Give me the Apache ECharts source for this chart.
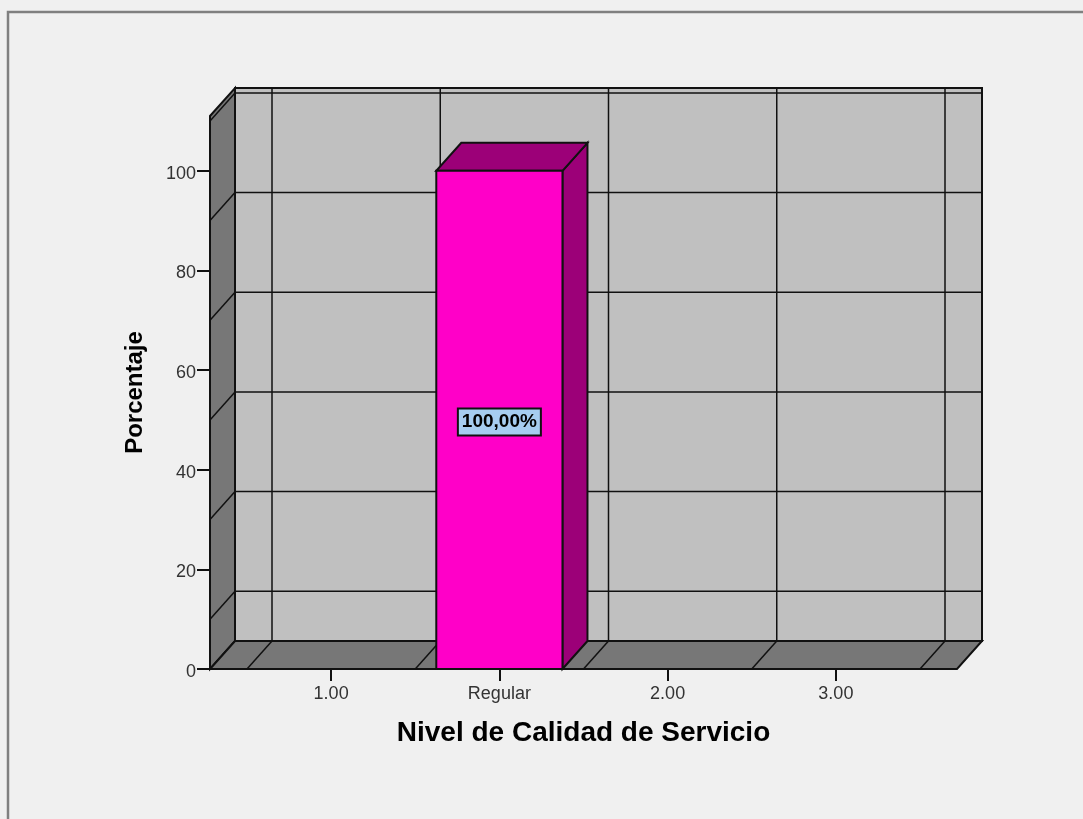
<!DOCTYPE html>
<html>
<head>
<meta charset="utf-8">
<style>
  html, body { margin: 0; padding: 0; background: #f0f0f0; }
  #chart { width: 1083px; height: 819px; }
</style>
<script src="https://cdn.jsdelivr.net/npm/echarts@6/dist/echarts.min.js"></script>
</head>
<body>
<div id="chart"></div>
<script>
// Chart data
const categories = ['1.00', 'Regular', '2.00', '3.00'];
const percentages = [0, 100, 0, 0];
const valueLabels = ['', '100,00%', '', ''];
const yTicks = [0, 20, 40, 60, 80, 100];
const wallGridValues = [10, 30, 50, 70, 90, 110];
const yMax = 111;

// Look of the pseudo-3D box
const depthX = 25;
const depthY = 28;
const wallPad = 37;
const barShare = 0.75;
const ink = '#111111';
const lineStyle = { stroke: ink, lineWidth: 1.5, fill: null };
const faceStroke = { stroke: ink, lineWidth: 2 };

function poly(points, fill, z2) {
  return {
    type: 'polygon', z2: z2 || 0,
    shape: { points: points },
    style: Object.assign({ fill: fill }, faceStroke)
  };
}
function seg(a, b) {
  return {
    type: 'line', z2: 1,
    shape: { x1: a[0], y1: a[1], x2: b[0], y2: b[1] },
    style: lineStyle
  };
}

// Walls, floor and their grid lines
function renderBox(params, api) {
  const band = api.size([1, 0])[0];
  const first = api.coord([0, 0])[0] - band / 2;
  const last = api.coord([categories.length - 1, 0])[0] + band / 2;
  const left = first - wallPad;
  const right = last + wallPad;
  const y0 = api.coord([0, 0])[1];
  const yTop = api.coord([0, yMax])[1];
  const kids = [
    poly([[left + depthX, y0 - depthY], [right + depthX, y0 - depthY], [right + depthX, yTop - depthY], [left + depthX, yTop - depthY]], '#c0c0c0'),
    poly([[left, y0], [left + depthX, y0 - depthY], [left + depthX, yTop - depthY], [left, yTop]], '#777777'),
    poly([[left, y0], [right, y0], [right + depthX, y0 - depthY], [left + depthX, y0 - depthY]], '#777777')
  ];
  wallGridValues.forEach(function (v) {
    const y = api.coord([0, v])[1];
    kids.push(seg([left, y], [left + depthX, y - depthY]));
    kids.push(seg([left + depthX, y - depthY], [right + depthX, y - depthY]));
  });
  for (let i = 0; i <= categories.length; i++) {
    const x = first + i * band;
    kids.push(seg([x, y0], [x + depthX, y0 - depthY]));
    kids.push(seg([x + depthX, y0 - depthY], [x + depthX, yTop - depthY]));
  }
  return { type: 'group', children: kids };
}

// One extruded bar with its value tag
function renderBar(params, api) {
  const idx = api.value(0);
  const val = api.value(1);
  if (!val) return null;
  const band = api.size([1, 0])[0];
  const w = band * barShare;
  const c = api.coord([idx, 0]);
  const t = api.coord([idx, val]);
  const x1 = c[0] - w / 2, x2 = c[0] + w / 2, y0 = c[1], y1 = t[1];
  const dark = '#9c0078';
  const mid = api.coord([idx, val / 2]);
  return {
    type: 'group',
    children: [
      poly([[x2, y0], [x2 + depthX, y0 - depthY], [x2 + depthX, y1 - depthY], [x2, y1]], dark, 2),
      poly([[x1, y1], [x2, y1], [x2 + depthX, y1 - depthY], [x1 + depthX, y1 - depthY]], dark, 2),
      poly([[x1, y0], [x2, y0], [x2, y1], [x1, y1]], '#ff00c8', 3),
      {
        type: 'text', z2: 4,
        style: {
          x: mid[0], y: mid[1] + 2,
          text: valueLabels[idx],
          align: 'center', verticalAlign: 'middle',
          font: 'bold 19px "Liberation Sans", Arial, sans-serif',
          fill: '#000000',
          backgroundColor: '#a6cdf0',
          borderColor: '#111111', borderWidth: 2,
          padding: [3, 3, 3, 3]
        }
      }
    ]
  };
}

const chart = echarts.init(document.getElementById('chart'), null, { renderer: 'canvas' });
chart.setOption({
  animation: false,
  backgroundColor: '#f0f0f0',
  graphic: [{
    type: 'polyline',
    silent: true,
    shape: { points: [[8, 819], [8, 12], [1083, 12]] },
    style: { stroke: '#808080', lineWidth: 2.5, fill: null }
  }],
  grid: { left: 247, width: 673, top: 116, height: 553 },
  xAxis: {
    type: 'category',
    data: categories,
    name: 'Nivel de Calidad de Servicio',
    nameLocation: 'middle',
    nameGap: 50,
    nameTextStyle: { fontFamily: 'Liberation Sans', fontWeight: 'bold', fontSize: 28, color: '#000' },
    axisLine: { show: false },
    axisTick: { show: true, alignWithLabel: true, length: 12, lineStyle: { color: ink, width: 2 } },
    axisLabel: { fontFamily: 'Liberation Sans', fontSize: 18, color: '#333', margin: 16 },
    splitLine: { show: false },
    z: 5
  },
  yAxis: {
    type: 'value',
    min: 0,
    max: yMax,
    interval: 20,
    offset: 37,
    name: 'Porcentaje',
    nameLocation: 'middle',
    nameGap: 63,
    nameTextStyle: { fontFamily: 'Liberation Sans', fontWeight: 'bold', fontSize: 24, color: '#000' },
    axisLine: { show: false },
    axisTick: { show: true, length: 13, customValues: yTicks, lineStyle: { color: ink, width: 2 } },
    axisLabel: { fontFamily: 'Liberation Sans', fontSize: 18, color: '#333', margin: 14, verticalAlign: 'top', lineHeight: 6, customValues: yTicks },
    splitLine: { show: false },
    z: 5
  },
  series: [
    { type: 'custom', silent: true, renderItem: renderBox, data: [[0, 0]], encode: { x: 0, y: 1 }, z: 1 },
    { type: 'custom', silent: true, renderItem: renderBar, data: percentages.map(function (v, i) { return [i, v]; }), encode: { x: 0, y: 1 }, z: 2 }
  ]
});
</script>
</body>
</html>
